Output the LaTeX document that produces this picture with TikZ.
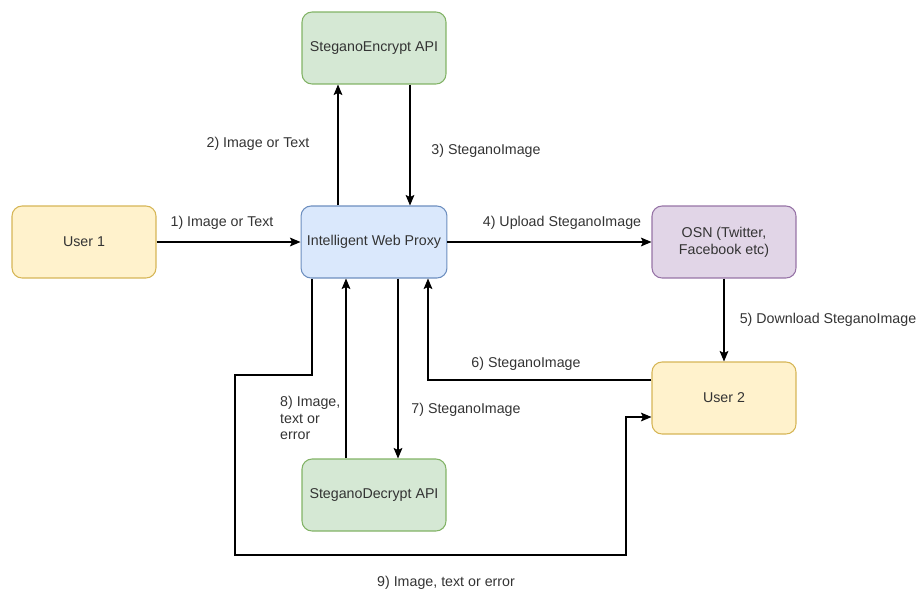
\documentclass[tikz,border=0pt]{standalone}
\usepackage{fontspec}
\setmainfont{Liberation Sans}
\usetikzlibrary{arrows.meta,calc}
\definecolor{yelF}{HTML}{FFF2CC}\definecolor{yelD}{HTML}{D6B656}
\definecolor{bluF}{HTML}{DAE8FC}\definecolor{bluD}{HTML}{6C8EBF}
\definecolor{grnF}{HTML}{D5E8D4}\definecolor{grnD}{HTML}{82B366}
\definecolor{purF}{HTML}{E1D5E7}\definecolor{purD}{HTML}{9673A6}

\begin{document}
\begin{tikzpicture}[x=0.02cm,y=-0.02cm,
  font=\fontsize{8.1pt}{9.6pt}\selectfont, text=black!80,
  box/.style={draw,rounded corners=0.2cm,minimum width=2.88cm,minimum height=1.44cm,align=center,line width=0.6pt},
  arr/.style={-{Stealth[length=6pt,width=5pt,inset=1.2pt]},line width=0.6pt}]
\useasboundingbox (0,0) rectangle (919,592);
\node[box,fill=grnF,draw=grnD] (enc) at (374,48) {SteganoEncrypt API};
\node[box,fill=yelF,draw=yelD] (usr1) at (84,242) {User 1};
\node[box,fill=bluF,draw=bluD] (proxy) at (374,242) {Intelligent Web Proxy};
\node[box,fill=purF,draw=purD] (osn) at (724,242) {OSN (Twitter,\\Facebook etc)};
\node[box,fill=yelF,draw=yelD] (usr2) at (724,398) {User 2};
\node[box,fill=grnF,draw=grnD] (dec) at (374,495) {SteganoDecrypt API};
\draw[arr] (usr1) -- (proxy);
\draw[arr] ($(proxy.north)+(-36,0)$) -- ($(enc.south)+(-36,0)$);
\draw[arr] ($(enc.south)+(36,0)$) -- ($(proxy.north)+(36,0)$);
\draw[arr] (proxy) -- (osn);
\draw[arr] (osn) -- (usr2);
\draw[arr] ($(usr2.west)+(0,-18)$) -| ($(proxy.south)+(54,0)$);
\draw[arr] ($(proxy.south)+(24,0)$) -- ($(dec.north)+(24,0)$);
\draw[arr] ($(dec.north)+(-28,0)$) -- ($(proxy.south)+(-28,0)$);
\draw[arr] ($(proxy.south)+(-62,0)$) |- (235,375) |- (626,555) |- ($(usr2.west)+(0,19)$);
\node (l1) at (222,223) {1) Image or Text};
\node (l2) at (258,144) {2) Image or Text};
\node (l3) at (486,151) {3) SteganoImage};
\node (l4) at (562,223) {4) Upload SteganoImage};
\node (l5) at (828,320) {5) Download SteganoImage};
\node (l6) at (526,364) {6) SteganoImage};
\node (l7) at (466,410) {7) SteganoImage};
\node[align=left,anchor=west] (l8) at (274,418) {8) Image,\\text or\\error};
\node (l9) at (446,583) {9) Image, text or error};
\end{tikzpicture}
\end{document}
